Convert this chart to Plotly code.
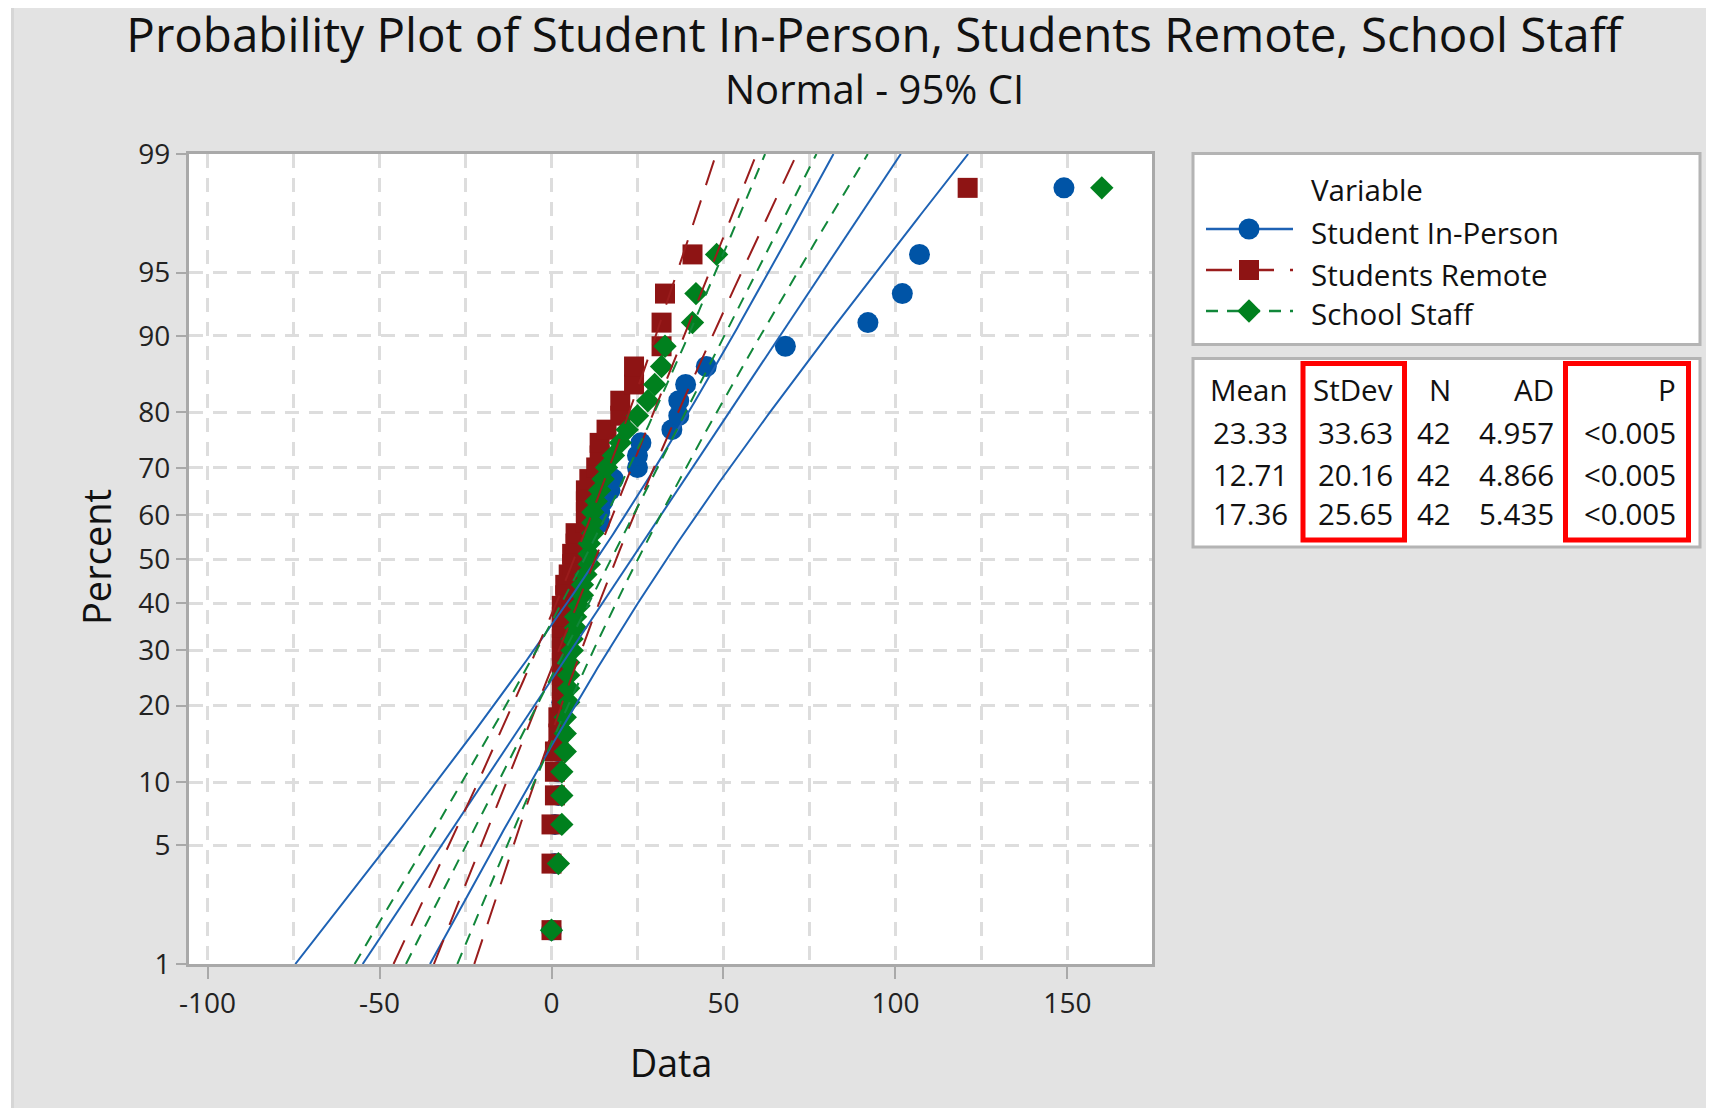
import math
from statistics import NormalDist
import plotly.graph_objects as go

nd = NormalDist()

# ---------------- data ----------------
series_names = ["Student In-Person", "Students Remote", "School Staff"]
student_in_person = [0, 1, 1, 2, 2, 2, 3, 3, 3, 4, 4, 4, 5, 5, 5, 6, 6, 7, 7, 8, 9, 10, 10,
                     11, 14, 14, 15, 17, 18, 25, 25, 26, 35, 37, 37, 39, 45, 68, 92, 102, 107, 149]
students_remote = [0, 0, 0, 1, 1, 1, 2, 2, 3, 3, 3, 3, 3, 3, 3, 3, 3, 4, 4, 5, 6, 6, 7, 7,
                   10, 10, 10, 10, 11, 13, 14, 14, 16, 20, 20, 24, 24, 32, 32, 33, 41, 121]
school_staff = [0, 2, 3, 3, 3, 4, 4, 4, 5, 5, 5, 5, 6, 6, 7, 7, 8, 9, 9, 10, 11, 11, 11,
                12, 12, 12, 13, 14, 15, 16, 18, 20, 22, 25, 28, 30, 32, 33, 41, 42, 48, 160]
means = [23.33, 12.71, 17.36]
stdevs = [33.63, 20.16, 25.65]
counts = [42, 42, 42]
ad_values = ["4.957", "4.866", "5.435"]
p_values = ["<0.005", "<0.005", "<0.005"]
percent_ticks = [1, 5, 10, 20, 30, 40, 50, 60, 70, 80, 90, 95, 99]
data_ticks = [-100, -50, 0, 50, 100, 150]
confidence = 0.95

# ---------------- styles ----------------
marker_colors = ["#0054A6", "#8E1414", "#00801E"]
line_colors = ["#1E62B4", "#9A1C1C", "#11873A"]
symbols = ["circle", "square", "diamond"]
msizes = [21, 20, 18]
dashes = ["solid", "26px,16px", "12px,9px"]
FONT = "Open Sans, Noto Sans, sans-serif"
W, H = 1714, 1108
OFF = 8                      # page body margin offset
L, R, T, B = 189, 1152, 154, 964   # plot area in window pixels
AXC = "#a9a9a9"
GRIDC = "#dddddd"


def px(x):
    return (x - L) / (R - L)


def py(y):
    return (B - y) / (B - T)


all_series = [student_in_person, students_remote, school_staff]

fig = go.Figure()

# data points (median ranks)
for k, vals in enumerate(all_series):
    v = sorted(vals)
    n = len(v)
    zs = [nd.inv_cdf((i + 1 - 0.3) / (n + 0.4)) for i in range(n)]
    fig.add_trace(go.Scatter(
        x=v, y=zs, mode="markers", name=series_names[k], showlegend=False,
        marker=dict(symbol=symbols[k], size=msizes[k], color=marker_colors[k],
                    line=dict(width=0)),
        hoverinfo="skip"))

# fitted lines with confidence bands
zlo, zhi = nd.inv_cdf(0.01), nd.inv_cdf(0.99)
zgrid = [zlo + (zhi - zlo) * j / 200 for j in range(201)]
zc = nd.inv_cdf(0.5 + confidence / 2)
for k in range(3):
    m, s, n = means[k], stdevs[k], counts[k]
    fit = [m + s * z for z in zgrid]
    se = [s * math.sqrt(1 / n + z * z / (2 * n)) for z in zgrid]
    lo = [f - zc * e for f, e in zip(fit, se)]
    hi = [f + zc * e for f, e in zip(fit, se)]
    xs = lo + [None] + fit + [None] + hi
    ys = zgrid + [None] + zgrid + [None] + zgrid
    fig.add_trace(go.Scatter(
        x=xs, y=ys, mode="lines", showlegend=False, hoverinfo="skip",
        line=dict(color=line_colors[k], width=2, dash=dashes[k])))

shapes = []
# thin white edge at left as in the reference
shapes.append(dict(type="rect", xref="paper", yref="paper", layer="above",
                   x0=px(0), x1=px(11), y0=py(0), y1=py(H + 20), fillcolor="white", line=dict(width=0)))
shapes.append(dict(type="line", xref="paper", yref="paper", layer="above",
                   x0=px(12.5), x1=px(12.5), y0=py(5), y1=py(H + 20), line=dict(color="#d6d6d6", width=3)))
# legend box
shapes.append(dict(type="rect", xref="paper", yref="paper", layer="below",
                   x0=px(1193), x1=px(1700), y0=py(153.5), y1=py(344.5),
                   fillcolor="white", line=dict(color="#b4b4b4", width=3)))
# table box
shapes.append(dict(type="rect", xref="paper", yref="paper", layer="below",
                   x0=px(1193), x1=px(1700), y0=py(358.5), y1=py(547),
                   fillcolor="white", line=dict(color="#b4b4b4", width=3)))
# red highlight boxes
for x0, x1 in [(1303, 1404.5), (1565.5, 1688.5)]:
    shapes.append(dict(type="rect", xref="paper", yref="paper", layer="below",
                       x0=px(x0), x1=px(x1), y0=py(363.5), y1=py(540),
                       fillcolor="rgba(0,0,0,0)", line=dict(color="#ff0000", width=5)))

# legend samples (line + marker)
leg_rows_y = [229, 270, 311]
leg_text_y = [232.5, 274.5, 313.5]
lmx = 1249
for k in range(3):
    yy = leg_rows_y[k]
    shapes.append(dict(type="line", xref="paper", yref="paper", layer="below",
                       x0=px(1206), x1=px(1293), y0=py(yy), y1=py(yy),
                       line=dict(color=line_colors[k], width=2.5, dash=dashes[k])))
r0 = msizes[0] / 2
shapes.append(dict(type="circle", xref="paper", yref="paper", layer="above",
                   x0=px(lmx - r0), x1=px(lmx + r0), y0=py(leg_rows_y[0] + r0), y1=py(leg_rows_y[0] - r0),
                   fillcolor=marker_colors[0], line=dict(width=0)))
r1 = msizes[1] / 2
shapes.append(dict(type="rect", xref="paper", yref="paper", layer="above",
                   x0=px(lmx - r1), x1=px(lmx + r1), y0=py(leg_rows_y[1] + r1), y1=py(leg_rows_y[1] - r1),
                   fillcolor=marker_colors[1], line=dict(width=0)))
r2 = msizes[2] / 2 * 1.3
yy = leg_rows_y[2]
diamond = (f"M {px(lmx - r2)},{py(yy)} L {px(lmx)},{py(yy - r2)} "
           f"L {px(lmx + r2)},{py(yy)} L {px(lmx)},{py(yy + r2)} Z")
shapes.append(dict(type="path", xref="paper", yref="paper", layer="above", path=diamond,
                   fillcolor=marker_colors[2], line=dict(width=0)))

ann = []
# subtitle
ann.append(dict(text="Normal - 95% CI", xref="paper", yref="paper", x=px(874), y=py(88),
                xanchor="center", yanchor="middle", showarrow=False,
                font=dict(size=40, color="#111111", family=FONT)))
# axis titles
ann.append(dict(text="Percent", xref="paper", yref="paper", x=px(96), y=py(557),
                xanchor="center", yanchor="middle", textangle=-90, showarrow=False,
                font=dict(size=38, color="#111111", family=FONT)))
ann.append(dict(text="Data", xref="paper", yref="paper", x=px(671), y=py(1062),
                xanchor="center", yanchor="middle", showarrow=False,
                font=dict(size=37.5, color="#111111", family=FONT)))
# legend texts
ann.append(dict(text="Variable", xref="paper", yref="paper", x=px(1309), y=py(190),
                xanchor="left", yanchor="middle", showarrow=False,
                font=dict(size=29.5, color="#111111", family=FONT)))
for k in range(3):
    ann.append(dict(text=series_names[k], xref="paper", yref="paper", x=px(1309), y=py(leg_text_y[k]),
                    xanchor="left", yanchor="middle", showarrow=False,
                    font=dict(size=29.5, color="#111111", family=FONT)))
# table texts
col_right = [1290, 1395, 1453, 1556, 1678]
headers = ["Mean", "StDev", "N", "AD", "P"]
row_y = [389, 432, 474, 513.5]
for c, h in enumerate(headers):
    ann.append(dict(text=h, xref="paper", yref="paper", x=px(col_right[c]), y=py(row_y[0]),
                    xanchor="right", yanchor="middle", showarrow=False,
                    font=dict(size=29.5, color="#111111", family=FONT)))
for r in range(3):
    cells = [f"{means[r]:.2f}", f"{stdevs[r]:.2f}", str(counts[r]), ad_values[r], p_values[r]]
    for c, txt in enumerate(cells):
        ann.append(dict(text=txt, xref="paper", yref="paper", x=px(col_right[c]), y=py(row_y[r + 1]),
                        xanchor="right", yanchor="middle", showarrow=False,
                        font=dict(size=29.5, color="#111111", family=FONT)))

fig.update_layout(
    width=W, height=H,
    margin=dict(l=L - OFF, r=W - (R - OFF), t=T - OFF, b=H - (B - OFF), pad=0),
    paper_bgcolor="#e3e3e3", plot_bgcolor="white",
    font=dict(family=FONT, color="#111111"),
    title=dict(text="Probability Plot of Student In-Person, Students Remote, School Staff",
               x=(874 - OFF) / W, xref="container", xanchor="center",
               y=1 - (35 - OFF) / H, yref="container", yanchor="middle",
               font=dict(size=47.5, color="#111111", family=FONT)),
    xaxis=dict(range=[-105.4, 174.6], tickvals=data_ticks, ticktext=[str(t) for t in data_ticks],
               showline=True, linecolor=AXC, linewidth=3, mirror=True,
               ticks="outside", ticklen=12, tickwidth=2, tickcolor=AXC,
               showgrid=True, gridcolor=GRIDC, gridwidth=2.5, griddash="14px,10px",
               minor=dict(dtick=25, tick0=0, showgrid=True, gridcolor=GRIDC, gridwidth=2.5,
                          griddash="14px,10px", ticks=""),
               zeroline=False, tickfont=dict(size=28, color="#222222", family=FONT)),
    yaxis=dict(range=[zlo, zhi], tickvals=[nd.inv_cdf(p / 100) for p in percent_ticks],
               ticktext=[str(p) for p in percent_ticks],
               showline=True, linecolor=AXC, linewidth=3, mirror=True,
               ticks="outside", ticklen=10, tickwidth=2, tickcolor=AXC,
               showgrid=True, gridcolor=GRIDC, gridwidth=2.5, griddash="14px,10px",
               zeroline=False, tickfont=dict(size=28, color="#222222", family=FONT)),
    shapes=shapes, annotations=ann, showlegend=False,
)

fig.write_html("out.html")
